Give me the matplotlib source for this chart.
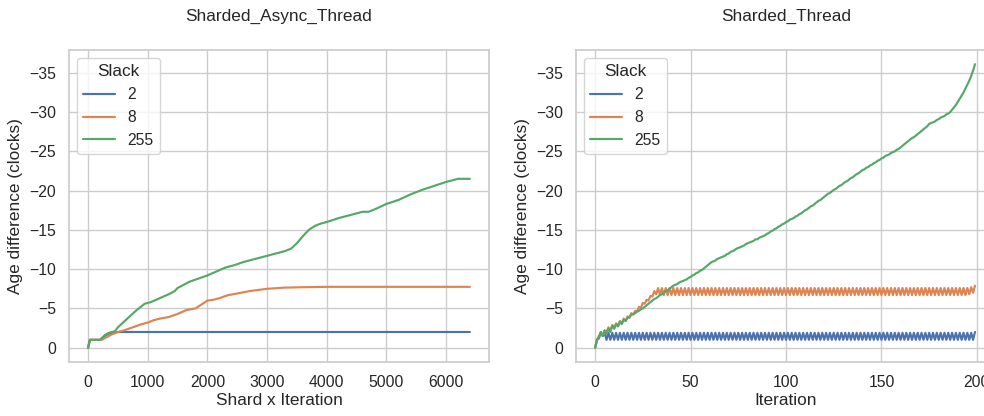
import matplotlib
matplotlib.use("Agg")
import matplotlib.pyplot as plt
import seaborn as sns

# ---------------- data ----------------
slack_levels = ["2", "8", "255"]
colors = ["#4C72B0", "#DD8452", "#55A868"]

# Left panel: Sharded_Async_Thread (x = shard x iteration)
async_blue_x = [0, 30, 200, 250, 300, 350, 420, 500, 6400]
async_blue_y = [0, -1, -1, -1.3, -1.6, -1.8, -1.9, -2.0, -2.0]

async_orange_x = [0, 30, 230, 300, 400, 500, 600, 750, 900, 1000, 1100, 1200, 1350, 1500,
                  1650, 1800, 1900, 2000, 2100, 2200, 2350, 2500, 2700, 3000, 3300, 3600,
                  4000, 4500, 6400]
async_orange_y = [0, -1, -1, -1.3, -1.7, -2.0, -2.2, -2.6, -3.0, -3.2, -3.5, -3.7, -3.9, -4.3,
                  -4.8, -5.0, -5.5, -6.0, -6.1, -6.3, -6.7, -6.9, -7.2, -7.5, -7.65, -7.7,
                  -7.75, -7.75, -7.75]

async_green_x = [0, 30, 200, 280, 350, 450, 500, 600, 700, 800, 900, 950, 1050, 1200, 1350,
                 1450, 1500, 1600, 1700, 1850, 2000, 2150, 2300, 2450, 2600, 2800, 3000, 3150,
                 3300, 3400, 3500, 3600, 3700, 3800, 3900, 4000, 4200, 4400, 4600, 4700, 4800,
                 5000, 5200, 5400, 5600, 5800, 6000, 6200, 6400]
async_green_y = [0, -1, -1, -1.6, -1.9, -2.1, -2.6, -3.3, -4.0, -4.7, -5.3, -5.6, -5.8, -6.3,
                 -6.8, -7.2, -7.6, -8.0, -8.4, -8.8, -9.2, -9.7, -10.2, -10.5, -10.9, -11.3,
                 -11.7, -12.0, -12.3, -12.6, -13.3, -14.2, -15.0, -15.5, -15.8, -16.0, -16.5,
                 -16.9, -17.3, -17.3, -17.6, -18.3, -18.8, -19.5, -20.1, -20.6, -21.1, -21.5,
                 -21.5]

# Right panel: Sharded_Thread (x = iteration 0..199)
iterations = list(range(200))

sync_blue_y = [
    0, -1.0, -1.2, -1.9, -1.5, -1.9, -1.0, -1.9, -1.0, -1.9, -1.0, -1.9, -1.0, -1.9, -1.0, -1.9, -1.0, -1.9, -1.0, -1.9,
    -1.0, -1.9, -1.0, -1.9, -1.0, -1.9, -1.0, -1.9, -1.0, -1.9, -1.0, -1.9, -1.0, -1.9, -1.0, -1.9, -1.0, -1.9, -1.0, -1.9,
    -1.0, -1.9, -1.0, -1.9, -1.0, -1.9, -1.0, -1.9, -1.0, -1.9, -1.0, -1.9, -1.0, -1.9, -1.0, -1.9, -1.0, -1.9, -1.0, -1.9,
    -1.0, -1.9, -1.0, -1.9, -1.0, -1.9, -1.0, -1.9, -1.0, -1.9, -1.0, -1.9, -1.0, -1.9, -1.0, -1.9, -1.0, -1.9, -1.0, -1.9,
    -1.0, -1.9, -1.0, -1.9, -1.0, -1.9, -1.0, -1.9, -1.0, -1.9, -1.0, -1.9, -1.0, -1.9, -1.0, -1.9, -1.0, -1.9, -1.0, -1.9,
    -1.0, -1.9, -1.0, -1.9, -1.0, -1.9, -1.0, -1.9, -1.0, -1.9, -1.0, -1.9, -1.0, -1.9, -1.0, -1.9, -1.0, -1.9, -1.0, -1.9,
    -1.0, -1.9, -1.0, -1.9, -1.0, -1.9, -1.0, -1.9, -1.0, -1.9, -1.0, -1.9, -1.0, -1.9, -1.0, -1.9, -1.0, -1.9, -1.0, -1.9,
    -1.0, -1.9, -1.0, -1.9, -1.0, -1.9, -1.0, -1.9, -1.0, -1.9, -1.0, -1.9, -1.0, -1.9, -1.0, -1.9, -1.0, -1.9, -1.0, -1.9,
    -1.0, -1.9, -1.0, -1.9, -1.0, -1.9, -1.0, -1.9, -1.0, -1.9, -1.0, -1.9, -1.0, -1.9, -1.0, -1.9, -1.0, -1.9, -1.0, -1.9,
    -1.0, -1.9, -1.0, -1.9, -1.0, -1.9, -1.0, -1.9, -1.0, -1.9, -1.0, -1.9, -1.0, -1.9, -1.0, -1.9, -1.0, -1.9, -1.0, -2.0,
]

sync_orange_y = [
    0, -1.0, -1.5, -2.0, -1.5, -2.2, -2.0, -2.6, -2.2, -2.9, -2.5, -3.1, -2.8, -3.4, -3.1, -3.7, -3.4, -4.0, -3.8, -4.4,
    -4.2, -4.7, -4.6, -5.2, -5.1, -5.7, -5.6, -6.1, -6.0, -6.6, -6.5, -7.2, -6.8, -7.6, -6.7, -7.6, -6.7, -7.6, -6.7, -7.6,
    -6.7, -7.6, -6.7, -7.6, -6.7, -7.6, -6.7, -7.6, -6.7, -7.6, -6.7, -7.6, -6.7, -7.6, -6.7, -7.6, -6.7, -7.6, -6.7, -7.6,
    -6.7, -7.6, -6.7, -7.6, -6.7, -7.6, -6.7, -7.6, -6.7, -7.6, -6.7, -7.6, -6.7, -7.6, -6.7, -7.6, -6.7, -7.6, -6.7, -7.6,
    -6.7, -7.6, -6.7, -7.6, -6.7, -7.6, -6.7, -7.6, -6.7, -7.6, -6.7, -7.6, -6.7, -7.6, -6.7, -7.6, -6.7, -7.6, -6.7, -7.6,
    -6.7, -7.6, -6.7, -7.6, -6.7, -7.6, -6.7, -7.6, -6.7, -7.6, -6.7, -7.6, -6.7, -7.6, -6.7, -7.6, -6.7, -7.6, -6.7, -7.6,
    -6.7, -7.6, -6.7, -7.6, -6.7, -7.6, -6.7, -7.6, -6.7, -7.6, -6.7, -7.6, -6.7, -7.6, -6.7, -7.6, -6.7, -7.6, -6.7, -7.6,
    -6.7, -7.6, -6.7, -7.6, -6.7, -7.6, -6.7, -7.6, -6.7, -7.6, -6.7, -7.6, -6.7, -7.6, -6.7, -7.6, -6.7, -7.6, -6.7, -7.6,
    -6.7, -7.6, -6.7, -7.6, -6.7, -7.6, -6.7, -7.6, -6.7, -7.6, -6.7, -7.6, -6.7, -7.6, -6.7, -7.6, -6.7, -7.6, -6.7, -7.6,
    -6.7, -7.6, -6.7, -7.6, -6.7, -7.6, -6.7, -7.6, -6.7, -7.6, -6.7, -7.6, -6.7, -7.6, -6.7, -7.6, -6.8, -7.7, -7.0, -7.9,
]

sync_green_y = [
    0, -1.0, -1.3, -2.0, -1.5, -2.2, -1.8, -2.4, -2.0, -2.8, -2.4, -3.0, -2.7, -3.3, -3.0, -3.6, -3.4, -3.8, -3.9, -4.2,
    -4.3, -4.4, -4.6, -4.7, -4.9, -5.0, -5.2, -5.4, -5.6, -5.8, -6.0, -6.2, -6.3, -6.5, -6.7, -6.8, -7.0, -7.2, -7.3, -7.5,
    -7.7, -7.9, -8.0, -8.1, -8.3, -8.4, -8.5, -8.6, -8.7, -8.9, -9.0, -9.2, -9.3, -9.5, -9.6, -9.8, -9.9, -10.1, -10.3, -10.5,
    -10.7, -10.9, -11.0, -11.1, -11.3, -11.4, -11.5, -11.6, -11.7, -11.9, -12.0, -12.2, -12.3, -12.4, -12.6, -12.7, -12.8, -12.9, -13.0, -13.2,
    -13.3, -13.4, -13.5, -13.6, -13.8, -13.8, -14.0, -14.1, -14.2, -14.3, -14.5, -14.6, -14.8, -14.9, -15.1, -15.2, -15.4, -15.5, -15.7, -15.8,
    -16.0, -16.1, -16.3, -16.4, -16.5, -16.7, -16.8, -17.0, -17.1, -17.3, -17.5, -17.6, -17.8, -18.0, -18.1, -18.3, -18.5, -18.7, -18.8, -19.0,
    -19.2, -19.4, -19.6, -19.7, -19.9, -20.1, -20.2, -20.4, -20.6, -20.7, -20.9, -21.1, -21.2, -21.4, -21.6, -21.7, -21.9, -22.1, -22.2, -22.4,
    -22.6, -22.7, -22.9, -23.0, -23.2, -23.3, -23.5, -23.6, -23.8, -23.9, -24.1, -24.2, -24.4, -24.5, -24.6, -24.8, -24.9, -25.0, -25.2, -25.3,
    -25.5, -25.7, -25.9, -26.1, -26.3, -26.5, -26.7, -26.8, -27.0, -27.2, -27.4, -27.6, -27.8, -28.0, -28.2, -28.5, -28.6, -28.7, -28.8, -29.0,
    -29.1, -29.3, -29.4, -29.5, -29.7, -29.8, -30.0, -30.3, -30.6, -30.9, -31.3, -31.7, -32.1, -32.5, -33.0, -33.5, -34.0, -34.6, -35.3, -36.1,
]

titles = ["Sharded_Async_Thread", "Sharded_Thread"]
xlabels = ["Shard x Iteration", "Iteration"]
ylabel = "Age difference (clocks)"
legend_title = "Slack"
yticks = [0, -5, -10, -15, -20, -25, -30, -35]

# ---------------- style ----------------
sns.set_theme(style="whitegrid", context="notebook")
s = 1.035
plt.rcParams['font.family'] = ['Liberation Sans', 'DejaVu Sans']
plt.rcParams.update({
    "xtick.labelsize": 11 * s, "ytick.labelsize": 11 * s,
    "axes.labelsize": 12 * s, "axes.titlesize": 12 * s,
    "legend.fontsize": 11 * s, "legend.title_fontsize": 12 * s,
    "lines.linewidth": 1.5 * s,
})

W, H = 984, 416
fig = plt.figure(figsize=(W / 100, H / 100), dpi=100)
ax_w = 420 / W
ax_h = (362 - 50) / H
axL = fig.add_axes([69 / W, (H - 362) / H, ax_w, ax_h])
axR = fig.add_axes([576 / W, (H - 362) / H, ax_w, ax_h])

left_series = [(async_blue_x, async_blue_y), (async_orange_x, async_orange_y),
               (async_green_x, async_green_y)]
right_series = [sync_blue_y, sync_orange_y, sync_green_y]

for (xs, ys), lab, c in zip(left_series, slack_levels, colors):
    axL.plot(xs, ys, color=c, label=lab)
for ys, lab, c in zip(right_series, slack_levels, colors):
    axR.plot(iterations, ys, color=c, label=lab)

axL.set_xlim(-320, 6720)
axR.set_xlim(-10, 210)
axL.set_xticks([0, 1000, 2000, 3000, 4000, 5000, 6000])
axR.set_xticks([0, 50, 100, 150, 200])

for ax, t, xl in zip([axL, axR], titles, xlabels):
    ax.set_ylim(1.82, -37.9)
    ax.set_yticks(yticks)
    ax.set_title(t, pad=21)
    ax.set_xlabel(xl, labelpad=2)
    ax.set_ylabel(ylabel)
    ax.legend(title=legend_title, loc="upper left")

fig.savefig("out.png", dpi=100)
